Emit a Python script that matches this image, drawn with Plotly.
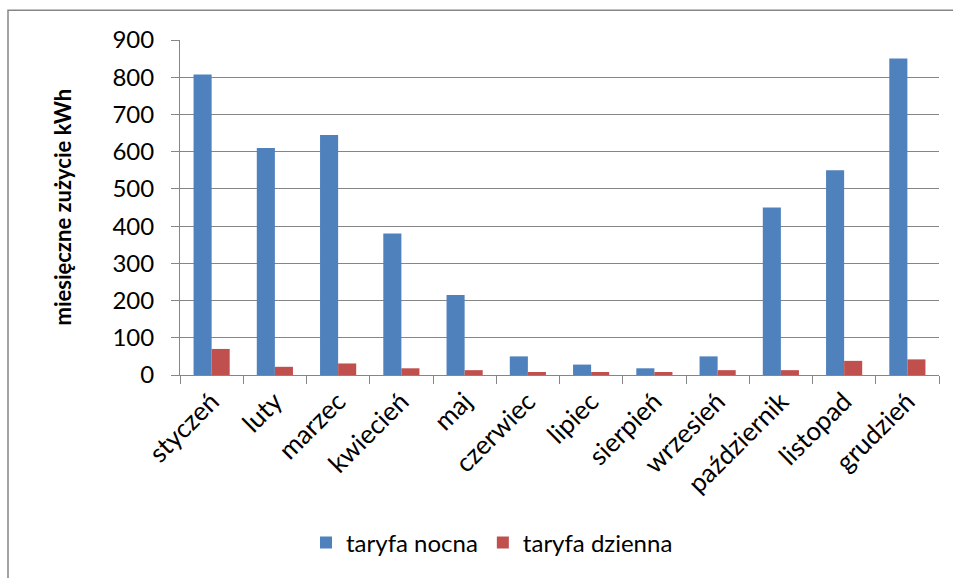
import plotly.graph_objects as go

months = ["styczeń", "luty", "marzec", "kwiecień", "maj", "czerwiec", "lipiec",
          "sierpień", "wrzesień", "październik", "listopad", "grudzień"]
nocna = [807, 610, 645, 380, 215, 50, 28, 18, 50, 450, 550, 850]
dzienna = [70, 22, 31, 18, 13, 8, 8, 8, 13, 13, 38, 42]
y_ticks = [0, 100, 200, 300, 400, 500, 600, 700, 800, 900]

FONT = "Lato, 'Open Sans', sans-serif"
GRID = "#868686"

fig = go.Figure()
fig.add_trace(go.Bar(x=months, y=nocna, name="taryfa nocna",
                     marker=dict(color="#4F81BD", line=dict(width=0))))
fig.add_trace(go.Bar(x=months, y=dzienna, name="taryfa dzienna",
                     marker=dict(color="#C0504D", line=dict(width=0))))

W, H = 953, 578
L, R, T, B = 180, 14, 40, 201
pw, ph = W - L - R, H - T - B

def px_x(x):
    return (x - L) / pw

def px_y(y):
    return (H - B - y) / ph

fig.update_layout(
    width=W, height=H,
    margin=dict(l=L, r=R, t=T, b=B, pad=0),
    paper_bgcolor="white", plot_bgcolor="white",
    barmode="group", bargap=1.5 / 3.5, bargroupgap=0,
    font=dict(family=FONT, size=22, color="black"),
    showlegend=True,
    legend=dict(orientation="h", x=px_x(492), xanchor="center",
                y=px_y(546), yanchor="middle",
                font=dict(size=24), itemwidth=30, traceorder="normal"),
    xaxis=dict(type="category", showline=True, linecolor=GRID, linewidth=1,
               ticks="outside", tickson="boundaries", ticklen=8, tickcolor=GRID,
               tickangle=-45, showgrid=False, tickfont=dict(size=26)),
    yaxis=dict(range=[0, 900], tickvals=y_ticks, showline=True, linecolor=GRID,
               linewidth=1, ticks="outside", ticklen=8, tickcolor=GRID,
               showgrid=True, gridcolor=GRID, gridwidth=1, zeroline=False,
               ticklabelstandoff=12, tickfont=dict(size=24)),
    annotations=[dict(text="<b>miesięczne zużycie kWh</b>", textangle=-90,
                      xref="paper", yref="paper", x=px_x(62), y=0.5,
                      xanchor="center", yanchor="middle", showarrow=False,
                      font=dict(size=22, family=FONT))],
    shapes=[dict(type="rect", xref="paper", yref="paper",
                 x0=px_x(8), x1=px_x(965), y0=px_y(600), y1=px_y(10),
                 line=dict(color=GRID, width=1.5), layer="below")],
)

fig.write_html("out.html")
